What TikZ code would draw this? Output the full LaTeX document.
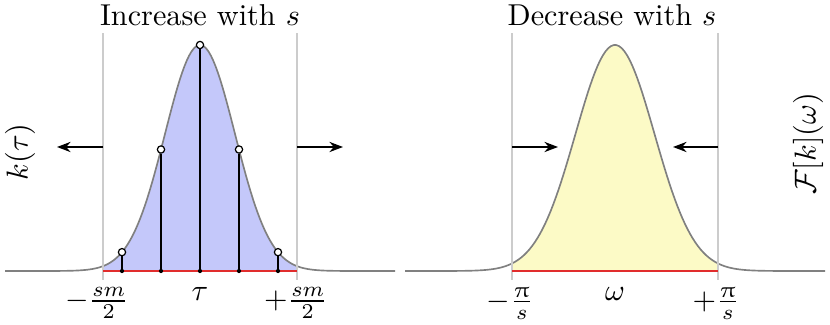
\documentclass[tikz,border=0pt]{standalone}
\usepackage{amsmath}
\usepackage{upgreek}
\usetikzlibrary{arrows.meta}
\definecolor{kfill}{RGB}{196,200,250}
\definecolor{ffill}{RGB}{252,250,198}
\definecolor{spanred}{RGB}{225,45,45}

\begin{document}
\begin{tikzpicture}[x=.331pt,y=.331pt,line width=.35pt,
  declare function={gl(\x)=54+226*exp(-0.5*((\x-200)/35)^2);
                    gr(\x)=54+226*exp(-0.5*((\x-615)/39.5)^2);},
  curve/.style={gray,line width=.55pt},
  limitline/.style={black!20,line width=.4pt},
  span/.style={spanred,line width=.7pt},
  shift arrow/.style={-{Stealth[length=4.5pt,width=3.4pt]},line width=.5pt},
  tap/.style={line width=.7pt},
  tapend/.style={circle,draw,fill=white,inner sep=0pt,minimum size=2.4pt,line width=.4pt},
  tapdot/.style={circle,fill,inner sep=0pt,minimum size=1.4pt}]
\useasboundingbox (0,0) rectangle (830,325);
% left: kernel
\fill[kfill] (103,54) -- plot[domain=103:297,samples=80] (\x,{gl(\x)}) -- (297,54) -- cycle;
\draw[curve] plot[domain=5:395,samples=160] (\x,{gl(\x)});
\coordinate (kminb) at (103,45); \coordinate (kmint) at (103,292);
\coordinate (kmaxb) at (297,45); \coordinate (kmaxt) at (297,292);
\draw[limitline] (kminb) -- (kmint) (kmaxb) -- (kmaxt);
\coordinate (kspanl) at (103,54); \coordinate (kspanr) at (297,54);
\draw[span] (kspanl) -- (kspanr);
\foreach \i in {-2,...,2} {
  \coordinate (b\i) at ({200+39*\i},54);
  \node[tapend] (t\i) at ({200+39*\i},{gl(200+39*\i)}) {};
  \draw[tap] (b\i) -- (t\i);
  \node[tapdot] (d\i) at (b\i) {};
}
\coordinate (kla) at (103,178); \coordinate (klb) at (57,178);
\coordinate (kra) at (297,178); \coordinate (krb) at (343,178);
\draw[shift arrow] (kla) -- (klb);
\draw[shift arrow] (kra) -- (krb);
\node[anchor=base] (ktitle) at (200,299) {Increase with $s$};
\node[rotate=90] (klabel) at (20,173) {$k(\tau)$};
\node[anchor=north,inner sep=0pt] (kneg) at (97,38) {$-\frac{sm}{2}$};
\node[anchor=north,inner sep=0pt] (kmid) at (200,38) {$\tau$};
\node[anchor=north,inner sep=0pt] (kpos) at (296,38) {$+\frac{sm}{2}$};
% right: its transform
\fill[ffill] (512,54) -- plot[domain=512:718,samples=80] (\x,{gr(\x)}) -- (718,54) -- cycle;
\draw[curve] plot[domain=405:825,samples=160] (\x,{gr(\x)});
\coordinate (fminb) at (512,45); \coordinate (fmint) at (512,292);
\coordinate (fmaxb) at (718,45); \coordinate (fmaxt) at (718,292);
\draw[limitline] (fminb) -- (fmint) (fmaxb) -- (fmaxt);
\coordinate (fspanl) at (512,54); \coordinate (fspanr) at (718,54);
\draw[span] (fspanl) -- (fspanr);
\coordinate (fla) at (512,178); \coordinate (flb) at (558,178);
\coordinate (fra) at (718,178); \coordinate (frb) at (673,178);
\draw[shift arrow] (fla) -- (flb);
\draw[shift arrow] (fra) -- (frb);
\node[anchor=base] (ftitle) at (612,299) {Decrease with $s$};
\node[rotate=90] (flabel) at (808,181) {$\mathcal{F}[k](\omega)$};
\node[anchor=north,inner sep=0pt] (fneg) at (510,38) {$-\frac{\uppi}{s}$};
\node[anchor=north,inner sep=0pt] (fmid) at (615,38) {$\omega$};
\node[anchor=north,inner sep=0pt] (fpos) at (716,38) {$+\frac{\uppi}{s}$};
\end{tikzpicture}
\end{document}
